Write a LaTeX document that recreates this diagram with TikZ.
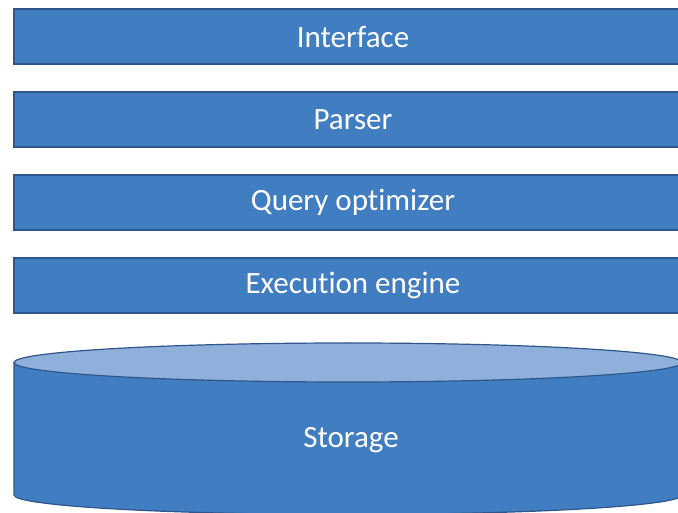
\documentclass[tikz,border=0pt]{standalone}
\usepackage{fontspec}
\setmainfont{Carlito}[Ligatures=NoCommon]
\definecolor{barfill}{RGB}{65,125,193}
\definecolor{barline}{RGB}{47,86,140}
\definecolor{topfill}{RGB}{143,176,218}
\begin{document}
\begin{tikzpicture}[x=1pt,y=1pt,
  layer/.style={draw=barline,line width=1.2pt,fill=barfill,rectangle,minimum width=678pt,minimum height=55pt,inner sep=0pt,text=white,font=\fontsize{31}{34}\selectfont},
  lbl/.style={text=white,font=\fontsize{31}{34}\selectfont}]
\useasboundingbox (0,0) rectangle (678,512);
\clip (0,0) rectangle (678,512);
\node[layer] (interface) at (353,475.5) {Interface};
\node[layer] (parser) at (353,392.5) {Parser};
\node[layer] (optimizer) at (353,309.5) {Query optimizer};
\node[layer] (engine) at (353,226.5) {Execution engine};
% storage cylinder
\coordinate (ctop) at (348,149.5);
\coordinate (cbot) at (348,17);
\draw[draw=barline,line width=1.2pt,fill=barfill]
  ([xshift=-334pt]ctop) -- ([xshift=-334pt]cbot)
  arc[start angle=180,end angle=360,x radius=334pt,y radius=19.5pt]
  -- ([xshift=334pt]ctop) -- cycle;
\draw[draw=barline,line width=1.2pt,fill=topfill] (ctop) ellipse[x radius=334pt,y radius=19.5pt];
\node[lbl] (storage) at (351,72) {Storage};
\end{tikzpicture}
\end{document}
